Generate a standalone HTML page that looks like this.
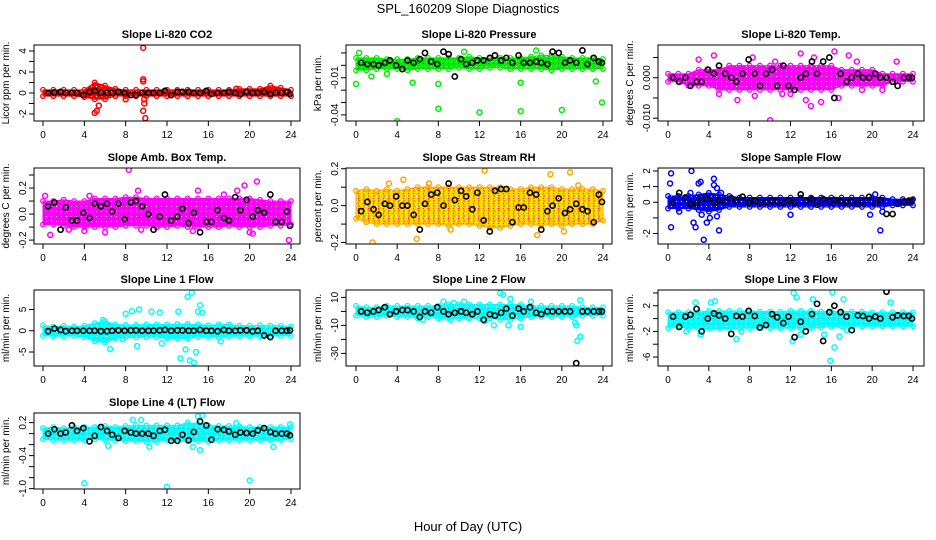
<!DOCTYPE html>
<html><head><meta charset="utf-8">
<style>
html,body{margin:0;padding:0;background:#fff;}
svg{display:block;font-family:"Liberation Sans",Arial,sans-serif;}
</style></head>
<body>
<svg id="chart" width="936" height="540" viewBox="0 0 936 540">
<defs id="defs"></defs>
<text x="468" y="13" text-anchor="middle" font-size="13">SPL_160209  Slope Diagnostics</text>
<text x="468" y="531" text-anchor="middle" font-size="13">Hour of Day (UTC)</text>
</svg>
<script>
const blackX=[0.5,1.1,1.7,2.2,2.8,3.3,3.9,4.5,5.0,5.6,6.2,6.7,7.3,7.9,8.5,9.0,9.6,10.2,10.7,11.3,11.8,12.4,13.0,13.5,14.1,14.6,15.2,15.8,16.3,16.9,17.5,18.0,18.6,19.1,19.7,20.3,20.8,21.4,22.0,22.5,23.1,23.6,23.9];
const bandX=[0,1,2,3,4,5,6,7,8,9,10,11,12,13,14,15,16,17,18,19,20,21,22,23,24];
const xTicks=[0,4,8,12,16,20,24];

const titles=["Slope Li-820 CO2","Slope Li-820 Pressure","Slope Li-820 Temp.","Slope Amb. Box Temp.","Slope Gas Stream RH","Slope Sample Flow","Slope Line 1 Flow","Slope Line 2 Flow","Slope Line 3 Flow","Slope Line 4 (LT) Flow"];
const yTitles=["Licor ppm per min.","kPa per min.","degrees C per min.","degrees C per min.","percent per min.","ml/min per min.","ml/min per min.","ml/min per min.","ml/min per min.","ml/min per min."];
const colors=["#ff0000","#00ee00","#ff00ff","#ff00ff","#ffa500","#0000ff","#00ffff","#00ffff","#00ffff","#00ffff"];
const speck=["#cc0000","#006600","#cc00cc","#cc00cc","#ff0000","#000099","#00bbbb","#00bbbb","#00bbbb","#00bbbb"];

const yTicks0=[-2,-1,0,1,2,3,4], yLabels0=["-2","","0","","2","","4"];
const yTicks1=[0.01,0,-0.01,-0.02,-0.03,-0.04], yLabels1=["","","-0.01","","","-0.04"];
const yTicks2=[0.005,0,-0.005,-0.01], yLabels2=["","0.000","","-0.010"];
const yTicks3=[0.3,0.2,0.1,0,-0.1,-0.2], yLabels3=["","0.2","","0.0","","-0.2"];
const yTicks4=[0.2,0.1,0,-0.1,-0.2], yLabels4=["0.2","","0.0","","-0.2"];
const yTicks5=[2,1,0,-1,-2], yLabels5=["2","1","0","","-2"];
const yTicks6=[5,0,-5], yLabels6=["5","0","-5"];
const yTicks7=[10,0,-10,-20,-30], yLabels7=["10","","-10","","-30"];
const yTicks8=[4,2,0,-2,-4,-6], yLabels8=["","2","","-2","","-6"];
const yTicks9=[0.2,0,-0.2,-0.4,-0.6,-0.8,-1.0], yLabels9=["0.2","","","-0.4","","","-1.0"];

const bandHi0=[0.3,0.3,0.3,0.3,0.3,1.0,0.7,0.4,0.3,0.3,0.3,0.3,0.3,0.3,0.3,0.3,0.3,0.3,0.3,0.4,0.4,0.4,0.7,0.5,0.3];
const bandLo0=[-0.3,-0.3,-0.3,-0.3,-0.4,-0.6,-0.6,-0.3,-0.3,-0.3,-0.3,-0.3,-0.3,-0.3,-0.3,-0.3,-0.3,-0.3,-0.3,-0.3,-0.3,-0.3,-0.3,-0.3,-0.3];
const outX0=[5.0,5.2,5.4,8.0,9.7,9.7,9.7,9.8,9.8,9.7,9.9,18.7];
const outY0=[-1.9,-1.7,-1.2,-0.6,4.3,1.3,1.1,-0.6,-1.0,-1.7,-2.4,0.4];
const black0=[0,0.05,0.1,0,0,0,-0.2,0.1,0.2,0,0,0,0.1,0,-0.2,-0.2,0,0,0,0,0.2,-0.2,0.1,0.1,0.1,0,0,0.2,-0.1,0,0,0.1,0,-0.1,0.1,0,0,0.1,-0.1,0,0,0.1,-0.1];

const bandHi1=[0.006,0.006,0.006,0.005,0.005,0.005,0.006,0.006,0.006,0.006,0.006,0.007,0.006,0.006,0.006,0.006,0.006,0.007,0.008,0.008,0.007,0.006,0.006,0.006,0.005];
const bandLo1=[-0.004,-0.004,-0.003,-0.003,-0.003,-0.004,-0.003,-0.003,-0.003,-0.003,-0.002,-0.003,-0.003,-0.002,-0.002,-0.003,-0.003,-0.003,-0.003,-0.004,-0.003,-0.003,-0.003,-0.003,-0.003];
const outX1=[0,0.3,1.5,4,5.5,8,8,12,16,16,20,23.9,3,17.5,10.5,23.3];
const outY1=[-0.015,0.01,-0.009,-0.045,-0.014,-0.035,-0.015,-0.038,-0.037,-0.014,-0.036,-0.030,-0.007,0.012,0.011,-0.013];
const black1=[0.002,0.001,0.001,0.0,0.002,0.004,0.0,-0.003,0.004,0.002,0.005,0.010,0.003,0.001,0.011,0.009,-0.009,0.005,0.001,0.002,0.004,0.004,0.006,0.008,0.004,0.006,0.002,0.008,0.002,0.002,0.003,0.002,0.001,0.011,0.010,0.002,0.004,0.002,0.012,0.001,0.006,0.003,0.002];

const bandHi2=[0.001,0.001,0.001,0.002,0.002,0.002,0.003,0.003,0.003,0.003,0.003,0.003,0.003,0.003,0.003,0.003,0.003,0.002,0.002,0.002,0.002,0.001,0.001,0.001,0.001];
const bandLo2=[-0.001,-0.001,-0.002,-0.002,-0.002,-0.003,-0.003,-0.003,-0.003,-0.003,-0.003,-0.003,-0.003,-0.003,-0.003,-0.003,-0.003,-0.002,-0.002,-0.002,-0.002,-0.002,-0.001,-0.001,-0.001];
const outX2=[4.5,6.8,8.5,10,10.5,11.2,12,13,13.5,14,15,16.3,16.7,17.7,18.5,19,21,22.4,5,3,8.3,14.3];
const outY2=[0.0055,-0.0055,-0.0045,-0.0105,0.004,-0.004,-0.004,0.006,-0.0055,-0.007,-0.006,0.0065,-0.005,0.0055,0.004,-0.003,-0.003,0.004,-0.004,0.0045,0.005,0.005];
const black2=[0,-0.001,0,-0.002,-0.001,-0.001,0.002,0.001,0.003,0.001,0,-0.001,0.001,0.0045,0.001,-0.002,0.001,0.002,-0.002,0.003,-0.002,-0.003,0,0.001,0.004,0.001,0.004,0.005,-0.005,0.001,-0.001,0,0.001,0,0,0.001,0,0,-0.001,-0.002,0,0,0];

const bandHi3=[0.1,0.1,0.11,0.1,0.1,0.12,0.12,0.12,0.13,0.13,0.12,0.12,0.12,0.12,0.12,0.12,0.12,0.12,0.12,0.12,0.12,0.11,0.1,0.1,0.1];
const bandLo3=[-0.08,-0.08,-0.09,-0.1,-0.1,-0.1,-0.1,-0.1,-0.09,-0.09,-0.09,-0.1,-0.1,-0.09,-0.1,-0.1,-0.1,-0.1,-0.09,-0.1,-0.1,-0.1,-0.09,-0.09,-0.08];
const outX3=[0.2,0.7,2.5,4,4.5,8.3,9.2,9.5,11,15,17.5,18.8,19.5,20,20.7,23.8,14.5,6,20.3];
const outY3=[0.14,-0.16,-0.12,-0.13,0.14,0.34,0.18,-0.12,-0.1,0.18,0.15,0.18,0.22,-0.14,0.25,-0.2,-0.13,-0.14,-0.15];
const black3=[0.06,0.09,-0.12,0.05,-0.05,-0.05,0.01,-0.03,0.08,0.06,0.08,0.02,0.08,-0.04,0.09,0.1,0.06,0,-0.12,-0.02,0.15,-0.05,-0.02,0.04,-0.07,0.01,-0.14,-0.06,-0.06,0.03,-0.03,-0.05,0.13,0.03,0.11,-0.02,0.03,0.01,0.15,-0.06,-0.06,0.02,-0.09];

const bandHi4=[0.08,0.09,0.08,0.09,0.08,0.09,0.1,0.1,0.1,0.1,0.1,0.1,0.1,0.1,0.1,0.09,0.09,0.1,0.1,0.1,0.09,0.09,0.09,0.09,0.08];
const bandLo4=[-0.07,-0.09,-0.1,-0.1,-0.1,-0.1,-0.1,-0.1,-0.1,-0.11,-0.1,-0.1,-0.11,-0.12,-0.12,-0.11,-0.1,-0.1,-0.11,-0.1,-0.11,-0.1,-0.1,-0.1,-0.08];
const outX4=[1.6,3.2,4.6,5.9,7.1,9.2,12.5,17.6,18.9,20.8,21.6,20.2,13];
const outY4=[-0.2,0.12,0.14,-0.18,0.12,-0.13,0.19,-0.16,0.17,0.18,0.11,-0.14,-0.14];
const black4=[-0.03,0.02,-0.02,-0.05,0.01,0,0.05,0,0,-0.05,-0.13,0.01,0.06,0.07,0,0.12,0.03,0.08,0.05,-0.02,0.07,-0.08,-0.14,0.08,0.09,0.09,-0.09,-0.01,-0.01,0.07,0.06,-0.13,-0.03,0,0.04,-0.04,-0.02,0.01,-0.02,-0.03,-0.09,0.06,0.02];

const bandHi5=[0.4,0.4,0.4,0.5,0.6,0.5,0.4,0.3,0.3,0.3,0.3,0.3,0.3,0.3,0.3,0.3,0.3,0.3,0.3,0.3,0.3,0.3,0.2,0.2,0.2];
const bandLo5=[-0.4,-0.4,-0.4,-0.5,-0.6,-0.5,-0.3,-0.3,-0.3,-0.3,-0.3,-0.3,-0.3,-0.3,-0.3,-0.3,-0.3,-0.3,-0.3,-0.3,-0.3,-0.3,-0.2,-0.2,-0.2];
const outX5=[0.3,0.2,0.3,2.3,2.2,2.5,2.7,3.0,3.2,3.5,3.3,3.8,4.1,4.5,4.5,4.8,4.8,5,5.2,12,19.8,20.3,20.8,21,1.1];
const outY5=[1.85,1.2,-1.6,2.0,0.6,-1.3,-1.6,1.2,1.3,-2.4,-0.8,-1.3,-1.0,1.5,1.1,0.9,-0.9,-1.8,0.6,-0.8,-0.8,0.5,-1.8,-0.6,-0.6];
const black5=[-0.05,0.6,0.3,-0.1,-0.05,0.25,0.2,0,0.1,0.05,0.25,0.1,0.35,0,0.1,0,0,0.1,0.05,0,0.1,0,0.5,0.1,0.2,-0.15,0.2,0.05,0.15,0.05,0,0.05,-0.1,0.05,0.35,-0.05,0.15,-0.75,-0.75,-0.1,0.05,0.1,0.1];

const bandHi6=[1.3,1.0,1.2,1.0,1.2,1.8,2.3,1.5,1.4,1.4,1.5,1.5,1.5,1.6,1.6,1.5,1.3,1.5,1.5,1.2,1.2,1.3,1.2,1.2,1.0];
const bandLo6=[-1.2,-1.3,-1.3,-1.2,-1.5,-2.5,-2.8,-1.8,-1.6,-1.6,-1.5,-1.5,-1.8,-1.8,-1.8,-1.5,-1.5,-1.5,-1.3,-1.3,-1.3,-1.3,-1.3,-1.2,-1.2];
const outX6=[6.5,8,8.6,9.3,9.1,10.5,11.3,11.5,13.1,13.3,14,14.4,13.8,14.2,14.6,14.8,15,15.2,15.4,17.2,7.7,5.8];
const outY6=[-4.3,4,4.6,5,-3.6,4.5,4.3,-3,4.5,-6.5,8,9,-4.4,-7,-7.5,-5,4.5,6,4.3,-2.5,-2,2.5];
const black6=[-0.1,0.5,0.2,-0.1,0,0,0,0,0,-0.1,-0.1,0,0.1,0,0.1,0.1,0,0,0,0.1,0.2,0,0.1,0.1,0,0,0.2,0,0,-0.1,0.2,0,0,0.1,0.1,-0.1,0,-1.1,-1.5,0,0,0,0.1];

const bandHi7=[4,3,3,4,4,4,4,4,4,5,5,5,5,5,5,5,5,4,4,4,4,4,3,3,3];
const bandLo7=[-3,-4,-4,-3,-4,-4,-5,-4,-5,-5,-5,-5,-5,-5,-6,-6,-5,-4,-4,-4,-4,-4,-3,-3,-3];
const outX7=[8.5,9.5,10.5,12.5,13.4,14,14.3,14.8,15,16,17,21.3,21.4,21.5,21.8,21.8,6.5,9.2];
const outY7=[7,6,7,-7,-10,13,12,-10,9,-11,7,-8,-10,-21,-18,8,-6,-6];
const black7=[0,-1,0,1,3,-2,0,1,1,0,-4,0,-1,3,0,-2,-1,0,-1,-2,0,-6,-2,-3,-1,2,-3,2,0,3,-1,-2,0,0,0,0,0,-37,0,0,0,0,0];

const bandHi8=[1,1,1,1,1.2,1.2,1.2,1.2,1.2,1.1,1.1,1.1,1.2,1.2,1.2,1.1,1.1,1.1,1.1,1.1,1.0,1.0,1.0,1.0,1.0];
const bandLo8=[-1.5,-1.3,-1.5,-1.5,-1.6,-1.6,-1.6,-1.5,-1.5,-1.5,-1.5,-1.5,-1.5,-1.5,-1.5,-1.4,-1.3,-1.2,-1.2,-1.2,-1.2,-1.2,-1.2,-1.2,-1.2];
const outX8=[1.8,2.7,3.2,4.2,4.6,6.7,7.2,12.2,12.3,12.6,13,14.2,15.3,16.1,16.3,15.9,16.8,17.2,17.5,21.8];
const outY8=[-2,2.5,-2.5,2.5,2.7,-3.2,-2,-3.5,4,3.3,-2.5,3,-2.5,4.1,-4.5,-6.6,-2.8,3,-1.8,2.5];
const black8=[0.3,-1.3,0.3,0.6,1.5,-2,0,0.8,0.5,0,-2.4,0.4,0.3,1.2,0.4,-1.4,-1,0.7,0.2,-0.7,0.3,-2.9,-0.5,-2,0.7,2.3,-3.5,1,2,1,0.3,-1.8,0.5,0.4,0,0.3,0,4.2,0.2,0.5,0.4,0.4,0];

const bandHi9=[0.1,0.12,0.1,0.12,0.12,0.12,0.14,0.12,0.14,0.15,0.15,0.15,0.15,0.15,0.2,0.18,0.15,0.14,0.14,0.13,0.12,0.12,0.12,0.12,0.12];
const bandLo9=[-0.1,-0.12,-0.12,-0.12,-0.12,-0.1,-0.12,-0.12,-0.14,-0.14,-0.15,-0.15,-0.12,-0.14,-0.14,-0.14,-0.15,-0.12,-0.12,-0.12,-0.12,-0.12,-0.12,-0.12,-0.1];
const outX9=[4,12,20,6.3,9.5,10.3,14.5,15.2,15.4,15,22.3,23.9,18.7,8.7];
const outY9=[-0.9,-0.97,-0.85,-0.22,0.25,-0.24,-0.24,-0.3,0.33,0.32,-0.24,0.17,0.19,0.25];
const black9=[0,0.08,0,0.02,0.15,0.05,0.1,-0.14,-0.04,0.12,0.05,-0.02,-0.08,0.05,0.02,0.0,0.0,0.0,-0.04,0.05,0.07,-0.13,-0.13,-0.02,-0.12,0.03,0.22,0.15,-0.11,0.08,0.07,0.04,-0.02,0.02,0.01,0.0,0.06,0.1,0.03,0,0,0,-0.03];

const yMin=[-2.67,-0.0449,-0.0107,-0.23,-0.208,-2.67,-8.3,-39,-7.4,-1.007];
const yMax=[4.57,0.0164,0.0081,0.354,0.204,2.19,9.6,15.3,4.46,0.375];

const panels=[
 [yTicks0,yLabels0,bandHi0,bandLo0,outX0,outY0,black0],
 [yTicks1,yLabels1,bandHi1,bandLo1,outX1,outY1,black1],
 [yTicks2,yLabels2,bandHi2,bandLo2,outX2,outY2,black2],
 [yTicks3,yLabels3,bandHi3,bandLo3,outX3,outY3,black3],
 [yTicks4,yLabels4,bandHi4,bandLo4,outX4,outY4,black4],
 [yTicks5,yLabels5,bandHi5,bandLo5,outX5,outY5,black5],
 [yTicks6,yLabels6,bandHi6,bandLo6,outX6,outY6,black6],
 [yTicks7,yLabels7,bandHi7,bandLo7,outX7,outY7,black7],
 [yTicks8,yLabels8,bandHi8,bandLo8,outX8,outY8,black8],
 [yTicks9,yLabels9,bandHi9,bandLo9,outX9,outY9,black9]
];

const NS="http://www.w3.org/2000/svg";
const svg=document.getElementById('chart');
const defs=document.getElementById('defs');
function mk(tag,attrs,parent){const e=document.createElementNS(NS,tag);for(const k in attrs)e.setAttribute(k,attrs[k]);(parent||svg).appendChild(e);return e;}

const colL=[34,346,658], colX0=[43,356,668], colX24=[291,603,913];
const rowT=[45,168,290,413], H=76, W=266;

panels.forEach((p,i)=>{
  const [yt,yl,bh,bl,ox,oy,bk]=p;
  const c=i%3, r=Math.floor(i/3);
  const L=colL[c], T=rowT[r];
  // texture pattern
  const pat=mk('pattern',{id:'pt'+i,width:5,height:5,patternUnits:'userSpaceOnUse'},defs);
  mk('rect',{x:0,y:0,width:5,height:5,fill:i===4?'#ffd700':colors[i]},pat);
  mk('rect',{x:1,y:1,width:1,height:1,fill:'#fff'},pat);
  mk('rect',{x:3,y:3,width:1,height:1,fill:speck[i]},pat);
  if(i===4) mk('rect',{x:3,y:0,width:2,height:2,fill:'#ff8c00'},pat);
  const g=mk('g',{});
  
  
  const xs=h=>colX0[c]+(colX24[c]-colX0[c])*h/24;
  const ys=v=>T+H-(v-yMin[i])/(yMax[i]-yMin[i])*H;
  const t=mk('text',{x:L+W/2,y:T-7,'text-anchor':'middle','font-size':'11','font-weight':'bold'},g);
  t.textContent=titles[i];
  
  
  const yt2=mk('text',{transform:`translate(${L-25},${T+H/2}) rotate(-90)`,'text-anchor':'middle','font-size':'10'},g);
  yt2.textContent=yTitles[i];
  
  
  const clip=mk('clipPath',{id:'cp'+i},g);
  mk('rect',{x:L,y:T,width:W,height:H},clip);
  const data=mk('g',{'clip-path':`url(#cp${i})`},g);
  let pts=bandX.map((h,k)=>xs(h)+','+ys(bh[k]));
  pts=pts.concat(bandX.slice().reverse().map((h,k)=>xs(h)+','+ys(bl[bandX.length-1-k])));
  const band=mk('polygon',{points:pts.join(' '),fill:`url(#pt${i})`,stroke:colors[i],'stroke-width':1},data);
  
  
  bandX.forEach((h,k)=>{
    [bh[k],bl[k]].forEach(v=>{
      const e=mk('circle',{cx:xs(h),cy:ys(v),r:2.3,fill:'none',stroke:colors[i],'stroke-width':1.3},data);
      
      
    });
  });
  ox.forEach((h,k)=>{
    const e=mk('circle',{cx:xs(h),cy:ys(oy[k]),r:2.5,fill:'none',stroke:colors[i],'stroke-width':1.5},data);
    
    
  });
  blackX.forEach((h,k)=>{
    const e=mk('circle',{cx:xs(h),cy:ys(bk[k]),r:2.6,fill:'none',stroke:'#000','stroke-width':1.6},data);
    
    
  });
  mk('rect',{x:L,y:T,width:W,height:H,fill:'none',stroke:'#000','stroke-width':1},g);
  xTicks.forEach(h=>{
    mk('line',{x1:xs(h),x2:xs(h),y1:T+H,y2:T+H+5,stroke:'#000'},g);
    const tl=mk('text',{x:xs(h),y:T+H+17,'text-anchor':'middle','font-size':'10'},g);
    tl.textContent=h;
    
    
  });
  yt.forEach((v,k)=>{
    mk('line',{x1:L-5,x2:L,y1:ys(v),y2:ys(v),stroke:'#000'},g);
    if(yl[k]){
      const tl=mk('text',{transform:`translate(${L-8},${ys(v)}) rotate(-90)`,'text-anchor':'middle','font-size':'10'},g);
      tl.textContent=yl[k];
      
      
    }
  });
});
</script>
</body></html>
